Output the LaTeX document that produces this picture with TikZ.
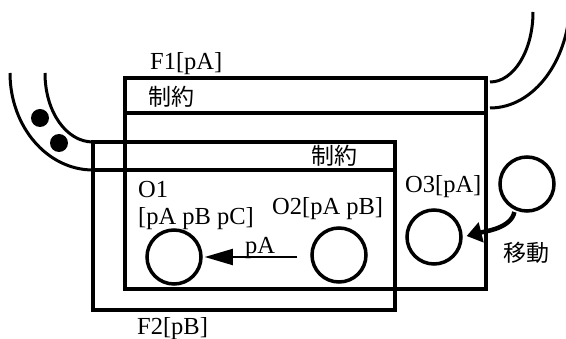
\documentclass[tikz,border=0pt]{standalone}
\usepackage{fontspec}
\setmainfont{Liberation Serif}
\newfontfamily\cjk{Noto Sans CJK JP}
\usetikzlibrary{arrows.meta}

\begin{document}
\begin{tikzpicture}[x=1pt, y=-1pt,
        every node/.style={font=\fontsize{24.5}{27}\selectfont, inner sep=0pt},
        BoxStyle/.style={draw, rectangle, line width=3.5pt},
        ObjStyle/.style={draw, circle, line width=3.5pt, minimum size=54pt},
        DotStyle/.style={circle, fill, minimum size=18pt},
        PipeStyle/.style={line width=3pt},
        CjkStyle/.style={font=\fontsize{23}{26}\selectfont\cjk}]
        \useasboundingbox (0,0) rectangle (566,339);
        % frames
        \node[BoxStyle, minimum width=361pt, minimum height=211pt] (F1) at (305.5,183.5) {};
        \node[BoxStyle, minimum width=302pt, minimum height=168pt] (F2) at (244,226) {};
        \draw[line width=3.5pt] (F1.west |- 0,113) -- (F1.east |- 0,113);
        \draw[line width=3.5pt] (F2.west |- 0,170) -- (F2.east |- 0,170);
        \node[anchor=base west] (F1name) at (150,70) {F1[pA]};
        \node[anchor=base west] (F2name) at (137,335) {F2[pB]};
        \node[CjkStyle, anchor=west] (F1rule) at (148,97) {制約};
        \node[CjkStyle, anchor=west] (F2rule) at (311,156) {制約};
        % pipes
        \draw[PipeStyle] (10,73) .. controls (10,126.6) and (47.2,170) .. (93,170);
        \draw[PipeStyle] (45,73) .. controls (45,112) and (66.5,142) .. (93,142);
        \draw[PipeStyle] (533,12) .. controls (533,50.7) and (513.7,82) .. (490,82);
        \draw[PipeStyle] (570,0) .. controls (570,59.6) and (534.2,108) .. (490,108);
        \node[DotStyle] (D1) at (40,118) {};
        \node[DotStyle] (D2) at (59,143) {};
        % objects
        \node[ObjStyle] (O1) at (174,257) {};
        \node[ObjStyle] (O2) at (339,255) {};
        \node[ObjStyle] (O3) at (434,237) {};
        \node[ObjStyle] (O4) at (527,184) {};
        \node[anchor=base west] (O1name) at (138,198) {O1};
        \node[anchor=base west] (O1props) at (138,225) {[pA pB pC]};
        \node[anchor=base west] (O2name) at (272,215) {O2[pA pB]};
        \node[anchor=base west] (O3name) at (405,193) {O3[pA]};
        % arrows
        \draw[-{Triangle[length=28pt,width=16pt]}, line width=1.8pt, shorten <=13pt, shorten >=2pt]
            (O2.west |- O1.east) -- (O1.east);
        \node[anchor=base west] (pAlabel) at (245,254) {pA};
        \draw[-{Triangle[length=15pt,width=20pt]}, line width=4.5pt, shorten <=2pt, shorten >=4pt]
            (O4.245) .. controls +(-4,18) and +(24,-6) .. (O3.east);
        \node[CjkStyle] (move) at (526,253) {移動};
    \end{tikzpicture}
\end{document}
